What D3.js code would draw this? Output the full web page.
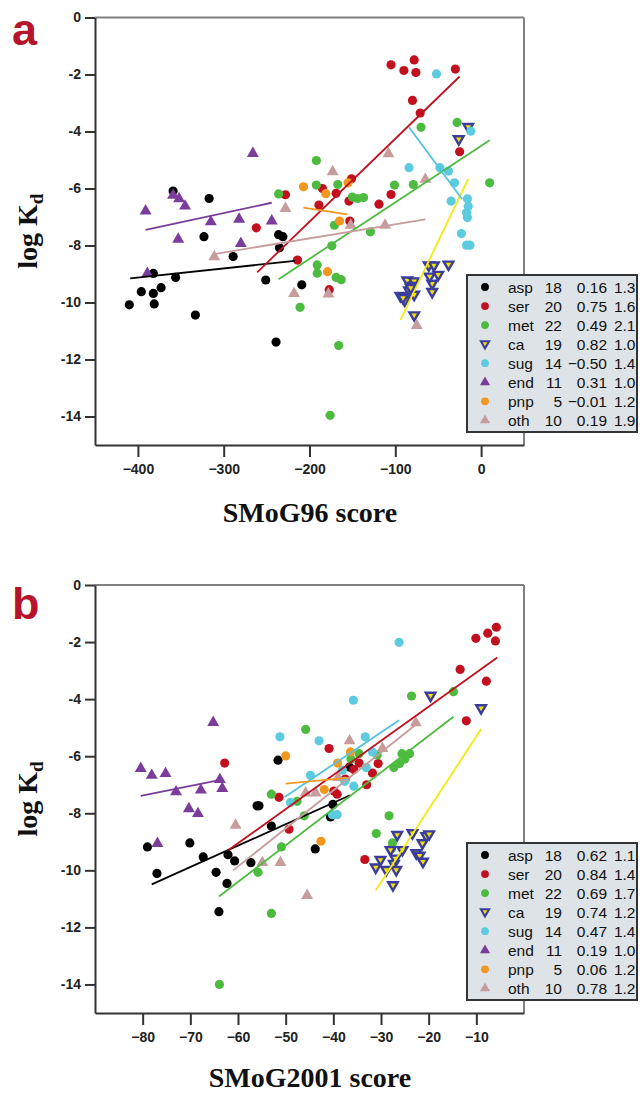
<!DOCTYPE html>
<html>
<head>
<meta charset="utf-8">
<script src="https://cdn.jsdelivr.net/npm/d3@7"></script>
<style>
  body { margin: 0; background: #fff; }
  .tick text { font-family: "Liberation Sans", Arial, sans-serif; font-weight: bold; font-size: 14px; fill: #222; }
  .tick line, .domain { stroke: #333; stroke-width: 2px; }
</style>
</head>
<body>
<div id="chart"></div>
<script>
// group names and legend stats
var groups = ['asp', 'ser', 'met', 'ca', 'sug', 'end', 'pnp', 'oth'];
var counts = [18, 20, 22, 19, 14, 11, 5, 10];
var r96 = ['0.16', '0.75', '0.49', '0.82', '\u22120.50', '0.31', '\u22120.01', '0.19'];
var sd96 = ['1.3', '1.6', '2.1', '1.0', '1.4', '1.0', '1.2', '1.9'];
var r2001 = ['0.62', '0.84', '0.69', '0.74', '0.47', '0.19', '0.06', '0.78'];
var sd2001 = ['1.1', '1.4', '1.7', '1.2', '1.4', '1.0', '1.2', '1.2'];
var yTicks = [0, -2, -4, -6, -8, -10, -12, -14];
var xTicks96 = [-400, -300, -200, -100, 0];
var xTicks2001 = [-80, -70, -60, -50, -40, -30, -20, -10];

// ---- SMoG96 points [score, logKd]
var asp96 = [[-359,-6.09],[-317,-6.35],[-323,-7.69],[-289,-8.39],[-382,-8.98],[-356,-9.12],[-396,-9.62],[-382,-9.68],
  [-373,-9.48],[-410,-10.08],[-381,-10.05],[-333,-10.44],[-251,-9.21],[-236,-7.62],[-231,-7.69],[-235,-8.08],[-209,-9.38],[-239,-11.39]];
var ser96 = [[-262,-7.38],[-228,-6.22],[-214,-8.51],[-105,-1.66],[-78,-1.49],[-90,-1.86],[-76,-1.93],[-30,-1.81],[-80,-2.91],
  [-71,-3.35],[-25,-4.71],[-189,-6.58],[-169,-6.17],[-151,-5.66],[-154,-6.44],[-119,-6.55],[-105,-6.21],[-153,-7.14],[-177,-9.55],[-185,-6.0]];
var met96 = [[-236,-6.19],[-192,-5.02],[-192,-5.88],[-167,-5.86],[-171,-7.29],[-144,-6.35],[-137,-6.32],[-129,-7.52],[-101,-5.88],
  [-79,-5.86],[-70,-3.85],[-28,-3.68],[10,-5.80],[-174,-8.01],[-191,-8.68],[-191,-8.97],[-169,-9.12],[-163,-9.20],[-211,-10.17],
  [-166,-11.51],[-176,-13.96],[-150,-6.3]];
var ca96 = [[-61,-8.71],[-55,-8.71],[-38,-8.68],[-50,-9.04],[-86,-9.24],[-78,-9.27],[-80,-9.43],[-57,-9.35],[-84,-9.59],[-78,-9.74],
  [-57,-9.64],[-94,-9.78],[-89,-9.94],[-78,-10.46],[-26,-4.28],[-15,-3.85],[-82,-9.5],[-91,-9.85],[-60,-9.1]];
var sug96 = [[-52,-1.98],[-12,-3.99],[-84,-5.27],[-48,-5.27],[-38,-5.39],[-31,-5.80],[-35,-6.44],[-16,-6.36],[-15,-6.62],
  [-17,-6.85],[-16,-7.02],[-23,-7.58],[-17,-7.99],[-13,-7.99]];
var end96 = [[-391,-6.79],[-359,-6.24],[-352,-6.36],[-345,-6.62],[-353,-7.78],[-315,-7.17],[-282,-7.08],[-280,-7.93],[-244,-7.14],
  [-266,-4.77],[-389,-8.98]];
var pnp96 = [[-207,-5.94],[-181,-6.18],[-155,-5.80],[-165,-7.14],[-179,-8.92]];
var oth96 = [[-228,-6.70],[-311,-8.40],[-218,-9.69],[-173,-5.41],[-108,-4.78],[-65,-5.68],[-152,-7.29],[-112,-7.29],[-178,-9.70],[-75,-10.81]];
// fitted lines [x1, y1, x2, y2]
var fit96 = [[-409,-9.15,-217,-8.54],[-261,-8.94,-25,-2.07],[-236,-9.18,10,-4.31],[-94,-10.61,-15,-5.66],
  [-84,-3.85,-22,-6.38],[-391,-7.45,-244,-6.50],[-207,-6.67,-156,-6.91],[-311,-8.30,-65,-7.08]];

// ---- SMoG2001 points
var asp2001 = [[-79.0,-9.18],[-77.0,-10.11],[-70.1,-9.04],[-67.3,-9.53],[-62.1,-9.45],[-60.7,-9.67],[-57.3,-9.73],[-64.6,-10.07],
  [-62.3,-10.46],[-64.0,-11.45],[-56.0,-7.74],[-55.6,-7.74],[-53.0,-8.45],[-51.6,-6.14],[-43.8,-9.25],[-36.6,-6.38],[-40.1,-7.69],[-40.6,-8.13]];
var ser2001 = [[-62.8,-6.24],[-51.4,-7.44],[-49.3,-8.56],[-40.9,-5.73],[-34.6,-6.24],[-35.7,-6.47],[-30.6,-6.26],[-31.8,-6.59],
  [-39.9,-7.22],[-39.2,-7.33],[-33.4,-9.62],[-13.4,-2.96],[-7.9,-3.37],[-12.1,-4.76],[-10.1,-1.87],[-7.6,-1.69],[-5.8,-1.48],
  [-6.0,-1.96],[-37.5,-6.8],[-33.0,-7.0]];
var met2001 = [[-45.8,-5.06],[-53.0,-7.33],[-47.6,-7.58],[-46.1,-8.09],[-50.9,-9.18],[-34.6,-5.91],[-30.8,-5.96],[-25.6,-5.91],
  [-24.0,-5.91],[-26.1,-6.26],[-27.3,-6.40],[-23.6,-3.89],[-14.8,-3.74],[-28.3,-8.09],[-31.0,-8.71],[-27.6,-9.04],[-27.8,-9.24],
  [-53.0,-11.51],[-63.9,-14.0],[-55.8,-10.07],[-25.0,-6.1],[-36.3,-6.1]];
var ca2001 = [[-26.6,-8.77],[-23.4,-8.71],[-20.5,-8.81],[-19.9,-8.75],[-21.3,-9.06],[-28.0,-9.30],[-25.5,-9.30],[-22.6,-9.41],
  [-21.9,-9.50],[-21.2,-9.71],[-30.1,-9.65],[-31.1,-9.91],[-28.9,-10.0],[-27.3,-9.79],[-26.8,-10.0],[-27.5,-10.53],[-19.6,-3.89],
  [-9.0,-4.33],[-27.0,-9.6]];
var sug2001 = [[-51.2,-5.32],[-49.0,-7.62],[-44.8,-6.67],[-43.0,-5.46],[-26.2,-2.01],[-35.8,-4.04],[-33.3,-5.32],[-31.8,-5.85],
  [-38.1,-6.49],[-37.6,-6.88],[-35.7,-7.05],[-33.1,-6.40],[-40.2,-8.05],[-39.2,-8.05]];
var end2001 = [[-80.4,-6.43],[-78.1,-6.67],[-75.2,-6.61],[-73.0,-7.25],[-67.8,-7.19],[-63.8,-6.82],[-63.3,-7.13],[-70.3,-7.84],
  [-68.4,-8.01],[-65.2,-4.82],[-76.9,-9.06]];
var pnp2001 = [[-50.0,-5.99],[-36.4,-5.85],[-39.1,-6.24],[-41.9,-7.17],[-42.6,-8.98]];
var oth2001 = [[-60.5,-8.42],[-54.9,-9.73],[-51.1,-9.73],[-45.8,-7.29],[-43.7,-7.29],[-36.6,-5.46],[-29.7,-5.73],[-22.7,-4.83],
  [-39.0,-6.75],[-45.5,-10.88]];
var fit2001 = [[-78.1,-10.49,-36.5,-7.37],[-62.0,-9.29,-5.6,-2.54],[-64.0,-10.92,-14.8,-4.62],[-31.1,-10.70,-9.0,-5.05],
  [-50.2,-7.43,-26.2,-4.74],[-80.4,-7.39,-63.4,-6.82],[-50.0,-6.96,-36.4,-6.75],[-61.0,-10.0,-22.6,-4.88]];

// marker styles per group
var fills = ['#000000', '#c3101e', '#4dbb3f', '#f2e200', '#5ccbe0', '#7b3d9c', '#f0981f', '#c79c9c'];
var lineCols = ['#000000', '#c3101e', '#4dbb3f', '#f4ea10', '#52c2e2', '#7b3d9c', '#f0981f', '#c79c9c'];
var shapes = ['circle', 'circle', 'circle', 'down', 'circle', 'up', 'circle', 'up'];

var svg = d3.select('#chart').append('svg')
    .attr('width', 640)
    .attr('height', 1093);

function drawMarker(g, shape, i, x, y, scale) {
    if (shape === 'circle') {
        g.append('circle')
            .attr('cx', x).attr('cy', y).attr('r', 4.6 * scale)
            .style('fill', fills[i]);
    } else if (shape === 'up') {
        g.append('path')
            .attr('d', d3.symbol().type(d3.symbolTriangle).size(62 * scale * scale)())
            .attr('transform', 'translate(' + x + ',' + y + ')')
            .style('fill', fills[i]);
    } else {
        g.append('path')
            .attr('d', d3.symbol().type(d3.symbolTriangle).size(40 * scale * scale)())
            .attr('transform', 'translate(' + x + ',' + (y - 0.5) + ') rotate(180)')
            .style('fill', fills[i])
            .style('stroke', '#3a3d9e')
            .style('stroke-width', 2.4 * scale)
            .style('stroke-linejoin', 'miter');
    }
}

function panel(opt) {
    var x = d3.scaleLinear().domain(opt.xDomain).range([95, 524]);
    var y = d3.scaleLinear().domain([-15, 0]).range([opt.bottom, opt.top]);
    var g = svg.append('g');

    // frame (top/right in grey)
    g.append('line').attr('x1', 95).attr('x2', 524).attr('y1', opt.top).attr('y2', opt.top)
        .style('stroke', '#808080').style('stroke-width', 2);
    g.append('line').attr('x1', 524).attr('x2', 524).attr('y1', opt.top).attr('y2', opt.bottom)
        .style('stroke', '#808080').style('stroke-width', 2);

    g.append('g')
        .attr('transform', 'translate(0,' + opt.bottom + ')')
        .call(d3.axisBottom(x).tickValues(opt.xTicks).tickSize(12).tickPadding(7).tickSizeOuter(0)
            .tickFormat(function (d) { return d < 0 ? '\u2212' + (-d) : d; }));
    g.append('g')
        .attr('transform', 'translate(95,0)')
        .call(d3.axisLeft(y).tickValues(yTicks).tickSize(10).tickPadding(4).tickSizeOuter(0)
            .tickFormat(function (d) { return d < 0 ? '-' + (-d) : d; }));

    var pts = g.append('g');
    opt.data.forEach(function (arr, i) {
        arr.forEach(function (p) {
            drawMarker(pts, shapes[i], i, x(p[0]), y(p[1]), 1);
        });
    });
    g.append('g').selectAll('line')
        .data(opt.fits)
        .enter().append('line')
        .attr('x1', function (d) { return x(d[0]); })
        .attr('y1', function (d) { return y(d[1]); })
        .attr('x2', function (d) { return x(d[2]); })
        .attr('y2', function (d) { return y(d[3]); })
        .style('stroke', function (d, i) { return lineCols[i]; })
        .style('stroke-width', 1.8);

    // legend
    var lg = g.append('g');
    lg.append('rect')
        .attr('x', 467).attr('y', opt.legTop)
        .attr('width', 170).attr('height', 157)
        .style('fill', '#dde3e6').style('stroke', '#333').style('stroke-width', 2);
    groups.forEach(function (name, i) {
        var cy = opt.legTop + 12 + i * 19.05;
        drawMarker(lg, shapes[i], i, 485, cy, 0.85);
        var cells = [[508, name, 'start'], [562, counts[i], 'end'], [607, opt.r[i], 'end'], [635.5, opt.sd[i], 'end']];
        cells.forEach(function (c) {
            lg.append('text')
                .attr('x', c[0]).attr('y', cy + 5.5)
                .attr('text-anchor', c[2])
                .style('font-family', '"Liberation Sans", Arial, sans-serif')
                .style('font-size', '15.5px')
                .style('fill', '#111')
                .text(c[1]);
        });
    });

    // panel letter
    g.append('text')
        .attr('x', 12).attr('y', opt.letterY)
        .style('font-family', '"Liberation Sans", Arial, sans-serif')
        .style('font-weight', 'bold').style('font-size', '45px')
        .style('fill', '#b5142c')
        .text(opt.letter);

    // axis titles
    g.append('text')
        .attr('x', 310).attr('y', opt.xTitleY)
        .attr('text-anchor', 'middle')
        .style('font-family', '"Liberation Serif", "Times New Roman", serif')
        .style('font-weight', 'bold').style('font-size', '28px')
        .style('fill', '#111')
        .text(opt.xTitle);
    var yt = g.append('text')
        .attr('transform', 'translate(37,' + ((opt.top + opt.bottom) / 2) + ') rotate(-90)')
        .attr('text-anchor', 'middle')
        .style('font-family', '"Liberation Serif", "Times New Roman", serif')
        .style('font-weight', 'bold').style('font-size', '28px')
        .style('fill', '#111');
    yt.append('tspan').text('log K');
    yt.append('tspan').attr('dy', 6).style('font-size', '19px').text('d');
}

panel({
    top: 17.5, bottom: 445, xDomain: [-450, 50], xTicks: xTicks96,
    data: [asp96, ser96, met96, ca96, sug96, end96, pnp96, oth96], fits: fit96,
    legTop: 275, r: r96, sd: sd96, letter: 'a', letterY: 45,
    xTitle: 'SMoG96 score', xTitleY: 522
});
panel({
    top: 585, bottom: 1013, xDomain: [-90, 0], xTicks: xTicks2001,
    data: [asp2001, ser2001, met2001, ca2001, sug2001, end2001, pnp2001, oth2001], fits: fit2001,
    legTop: 843, r: r2001, sd: sd2001, letter: 'b', letterY: 619,
    xTitle: 'SMoG2001 score', xTitleY: 1087
});
</script>
</body>
</html>
